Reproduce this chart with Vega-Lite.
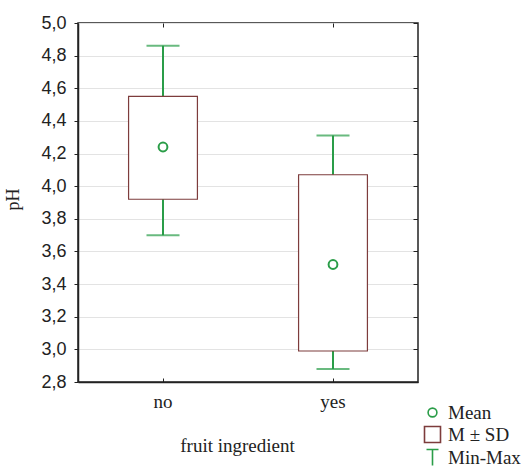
{
  "$schema": "https://vega.github.io/schema/vega-lite/v6.json",
  "width": 340,
  "height": 359,
  "autosize": {"type": "none"},
  "padding": {"left": 78, "top": 23, "right": 109, "bottom": 84},
  "background": "white",
  "config": {
    "view": {"stroke": "#222", "strokeWidth": 1.5},
    "axis": {"domainColor": "#222", "domainWidth": 1.5, "tickColor": "#222", "labelColor": "#222", "titleColor": "#222", "titleFontWeight": "normal"}
  },
  "data": {
    "values": [
      {"fruit": "no", "min": 3.70, "max": 4.86, "lo": 3.92, "hi": 4.55, "mean": 4.24, "series": "Mean"},
      {"fruit": "yes", "min": 2.88, "max": 4.31, "lo": 2.99, "hi": 4.07, "mean": 3.52, "series": "Mean"}
    ]
  },
  "resolve": {"axis": {"x": "independent", "y": "independent"}},
  "layer": [
    {
      "mark": {"type": "rule", "color": "#2a9d48", "strokeWidth": 2},
      "encoding": {
        "x": {
          "field": "fruit", "type": "nominal",
          "scale": {"paddingInner": 0, "paddingOuter": 0},
          "axis": {
            "orient": "bottom", "title": "fruit ingredient", "labelAngle": 0,
            "labelFont": "Liberation Serif", "labelFontSize": 19,
            "titleFont": "Liberation Serif", "titleFontSize": 19,
            "tickSize": -4, "labelPadding": 14,
            "titleX": 159, "titleY": 63, "titleBaseline": "middle", "titleAlign": "center"
          }
        },
        "y": {
          "field": "min", "type": "quantitative",
          "scale": {"domain": [2.8, 5.0], "nice": false, "zero": false},
          "axis": {
            "orient": "left", "title": "pH",
            "values": [2.8, 3.0, 3.2, 3.4, 3.6, 3.8, 4.0, 4.2, 4.4, 4.6, 4.8, 5.0],
            "format": ".1f", "labelExpr": "replace(datum.label, '.', ',')",
            "labelFont": "Liberation Sans", "labelFontSize": 18, "labelPadding": 8, "tickSize": 4,
            "grid": true, "gridColor": "#e3e3e3", "gridWidth": 1,
            "titleFont": "Liberation Serif", "titleFontSize": 18,
            "titleX": -65, "titleY": 176, "titleAngle": -90, "titleAlign": "center", "titleBaseline": "middle"
          }
        },
        "y2": {"field": "max"}
      }
    },
    {
      "mark": {"type": "bar", "fill": "white", "stroke": "#7d3c3c", "strokeWidth": 1.2, "width": {"band": 0.405}},
      "encoding": {
        "x": {"field": "fruit", "type": "nominal", "axis": {"orient": "top", "labels": false, "title": null, "tickSize": -4, "domain": false}},
        "y": {"field": "lo", "type": "quantitative", "axis": {"orient": "right", "labels": false, "title": null, "grid": false, "tickSize": -5, "domain": false, "values": [2.8, 3.0, 3.2, 3.4, 3.6, 3.8, 4.0, 4.2, 4.4, 4.6, 4.8, 5.0]}},
        "y2": {"field": "hi"}
      }
    },
    {
      "mark": {"type": "tick", "color": "#2a9d48", "size": 33, "thickness": 2, "orient": "horizontal"},
      "encoding": {
        "x": {"field": "fruit", "type": "nominal", "axis": null},
        "y": {"field": "max", "type": "quantitative", "axis": null}
      }
    },
    {
      "mark": {"type": "tick", "color": "#2a9d48", "size": 33, "thickness": 2, "orient": "horizontal"},
      "encoding": {
        "x": {"field": "fruit", "type": "nominal", "axis": null},
        "y": {"field": "min", "type": "quantitative", "axis": null}
      }
    },
    {
      "mark": {"type": "point", "filled": false, "strokeWidth": 2, "size": 256, "opacity": 1},
      "encoding": {
        "x": {"field": "fruit", "type": "nominal", "axis": null},
        "y": {"field": "mean", "type": "quantitative", "axis": null},
        "shape": {
          "field": "series", "type": "nominal",
          "scale": {
            "domain": ["Mean", "M ± SD", "Min-Max"],
            "range": ["M -0.55 0 A 0.55 0.55 0 1 0 0.55 0 A 0.55 0.55 0 1 0 -0.55 0 Z", "M -1 -1 H 1 V 1 H -1 Z", "M -0.75 -1 H 0.75 M 0 -1 V 1"]
          },
          "legend": {
            "orient": "none", "legendX": 345, "legendY": 380, "title": null, "padding": 0,
            "labelFont": "Liberation Serif", "labelFontSize": 19, "labelColor": "#222",
            "symbolSize": 256, "symbolStrokeWidth": 1.6, "labelOffset": 6, "rowPadding": 0
          }
        },
        "stroke": {
          "field": "series", "type": "nominal",
          "scale": {"domain": ["Mean", "M ± SD", "Min-Max"], "range": ["#2a9d48", "#7d3c3c", "#2a9d48"]},
          "legend": {
            "orient": "none", "legendX": 345, "legendY": 380, "title": null, "padding": 0,
            "labelFont": "Liberation Serif", "labelFontSize": 19, "labelColor": "#222",
            "symbolSize": 256, "symbolStrokeWidth": 1.6, "labelOffset": 6, "rowPadding": 0
          }
        }
      }
    }
  ]
}
